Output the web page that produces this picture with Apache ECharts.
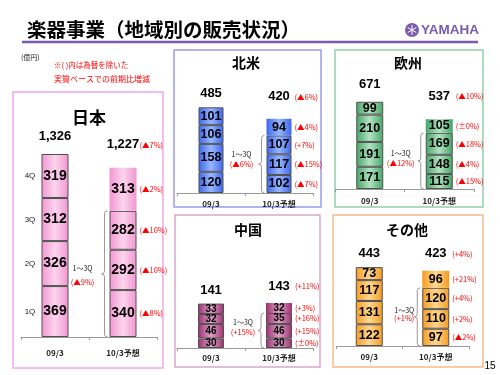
<!DOCTYPE html>
<html lang="ja">
<head>
<meta charset="UTF-8">
<title>楽器事業（地域別の販売状況）</title>
<style>
  html, body { margin: 0; background: #fff; }
  #main { width: 500px; height: 375px; }
</style>
</head>
<body>
<div id="main"></div>
<script src="https://cdn.jsdelivr.net/npm/echarts@6.0.0/dist/echarts.min.js"></script>
<script>
  // 単位：億円　1Q..4Q の順
  const cats = ['09/3', '10/3予想'];
  const qNames = ['1Q', '2Q', '3Q', '4Q'];

  const jpPrev = [369, 326, 312, 319];
  const jpFcst = [340, 292, 282, 313];
  const jpPct = ['(▲8%)', '(▲10%)', '(▲10%)', '(▲2%)'];
  const jpTotalPct = '(▲7%)';
  const jp13Pct = '(▲9%)';

  const naPrev = [120, 158, 106, 101];
  const naFcst = [102, 117, 107, 94];
  const naPct = ['(▲7%)', '(▲15%)', '(+7%)', '(▲4%)'];
  const naTotalPct = '(▲6%)';
  const na13Pct = '(▲6%)';

  const euPrev = [171, 191, 210, 99];
  const euFcst = [115, 148, 169, 105];
  const euPct = ['(▲15%)', '(▲4%)', '(▲18%)', '(±0%)'];
  const euTotalPct = '(▲10%)';
  const eu13Pct = '(▲12%)';

  const cnPrev = [30, 46, 32, 33];
  const cnFcst = [30, 46, 35, 32];
  const cnPct = ['(±0%)', '(+15%)', '(+16%)', '(+3%)'];
  const cnTotalPct = '(+11%)';
  const cn13Pct = '(+15%)';

  const otPrev = [122, 131, 117, 73];
  const otFcst = [97, 110, 120, 96];
  const otPct = ['(▲2%)', '(+2%)', '(+4%)', '(+21%)'];
  const otTotalPct = '(+4%)';
  const ot13Pct = '(+1%)';

  const JPF = "'Noto Sans CJK JP', sans-serif";
  const NARROW = "'Liberation Sans Narrow', 'Arial Narrow', sans-serif";
  const PCT_FONT = "7.5px 'Noto Sans CJK JP', sans-serif";

  const panels = [
    { name: '日本', prev: jpPrev, fcst: jpFcst, pct: jpPct, totalPct: jpTotalPct, q13Pct: jp13Pct,
      box: [13, 92, 150, 276], title: [89, 118], titleSize: 17,
      grid: { left: 21, top: 130, width: 136, height: 207 }, max: 1500, barWidth: 27, labelSize: 14,
      gaps: [18, 23], catMargin: 12, braceOff: 22, braceDy: [-6, 8],
      c1: '#f296d0', c2: '#fcd4ee', border: '#f0a8ec', qLabels: true },
    { name: '北米', prev: naPrev, fcst: naFcst, pct: naPct, totalPct: naTotalPct, q13Pct: na13Pct,
      box: [174, 50, 147, 157], title: [246, 63], titleSize: 14,
      grid: { left: 177, top: 87, width: 136, height: 106 }, max: 600, barWidth: 25, labelSize: 12.5,
      gaps: [14, 22], catMargin: 7, braceOff: 20, braceDy: [-10, 0],
      c1: '#3d66ee', c2: '#98b6ff', border: '#9a9af0' },
    { name: '欧州', prev: euPrev, fcst: euFcst, pct: euPct, totalPct: euTotalPct, q13Pct: eu13Pct,
      box: [335, 50, 148, 157], title: [408, 63], titleSize: 14,
      grid: { left: 335, top: 85, width: 139, height: 104 }, max: 800, barWidth: 27, labelSize: 12.5,
      gaps: [17, 23], catMargin: 8, braceOff: 20, braceDy: [-8, 2],
      c1: '#45a466', c2: '#b2e3c2', border: '#94d0ac' },
    { name: '中国', prev: cnPrev, fcst: cnFcst, pct: cnPct, totalPct: cnTotalPct, q13Pct: cn13Pct,
      box: [175, 215, 145, 152], title: [248, 230], titleSize: 14,
      grid: { left: 177, top: 285, width: 136, height: 63 }, max: 200, barWidth: 26, labelSize: 10,
      gaps: [13, 17], catMargin: 6, braceOff: 18, braceDy: [-8, 2],
      c1: '#9c3070', c2: '#dea0c6', border: '#d8a8cc' },
    { name: 'その他', prev: otPrev, fcst: otFcst, pct: otPct, totalPct: otTotalPct, q13Pct: ot13Pct,
      box: [333, 215, 150, 152], title: [407, 230], titleSize: 14,
      grid: { left: 336, top: 257, width: 133, height: 89 }, max: 500, barWidth: 27, labelSize: 12.5,
      gaps: [14, 17], catMargin: 7, braceOff: 13, braceDy: [-7, 1],
      c1: '#f59a22', c2: '#ffd890', border: '#f8bc8c' }
  ];

  function txt(s, x, y, font, color, align) {
    return {
      type: 'text',
      style: {
        text: s, x: x, y: y, font: font, fill: color,
        textAlign: align || 'center', align: align || 'center',
        textVerticalAlign: 'middle', verticalAlign: 'middle'
      }
    };
  }

  // 合計・前期比・括弧などの注記
  function annotations(p, gi) {
    return {
      type: 'custom', xAxisIndex: gi, yAxisIndex: gi, data: [[0, 0]], z: 10, silent: true,
      renderItem: function (params, api) {
        const kids = [];
        const hw = p.barWidth / 2;
        [p.prev, p.fcst].forEach(function (arr, c) {
          const tot = arr.reduce((a, b) => a + b, 0);
          const pt = api.coord([c, tot]);
          kids.push(txt(tot.toLocaleString('en-US'), pt[0], pt[1] - p.gaps[c], "bold 13px 'Liberation Sans', sans-serif", '#000'));
          if (c === 1) kids.push(txt(p.totalPct, pt[0] + hw + 3, pt[1] - p.gaps[c], PCT_FONT, '#ff0000', 'left'));
        });
        let acc = 0;
        p.fcst.forEach(function (v, i) {
          const mid = api.coord([1, acc + v / 2]);
          kids.push(txt(p.pct[i], mid[0] + hw + 3, mid[1], PCT_FONT, '#ff0000', 'left'));
          acc += v;
        });
        if (p.qLabels) {
          let a = 0;
          p.prev.forEach(function (v, i) {
            const mid = api.coord([0, a + v / 2]);
            kids.push(txt(qNames[i], mid[0] - 25, mid[1], "8px 'Liberation Sans', sans-serif", '#222'));
            a += v;
          });
        }
        // 1～3Q の括弧
        const q3 = p.fcst[0] + p.fcst[1] + p.fcst[2];
        const top = api.coord([1, q3]);
        const bot = api.coord([1, 0]);
        const x0 = top[0] - hw - 5;
        const y1 = top[1], y2 = bot[1], ym = (y1 + y2) / 2, w = 3;
        kids.push({
          type: 'path',
          shape: {
            pathData: 'M' + (x0 + w) + ' ' + y1 + ' Q' + x0 + ' ' + y1 + ' ' + x0 + ' ' + (y1 + w) +
              ' L' + x0 + ' ' + (ym - w) + ' Q' + x0 + ' ' + ym + ' ' + (x0 - w) + ' ' + ym +
              ' Q' + x0 + ' ' + ym + ' ' + x0 + ' ' + (ym + w) +
              ' L' + x0 + ' ' + (y2 - w) + ' Q' + x0 + ' ' + y2 + ' ' + (x0 + w) + ' ' + y2
          },
          style: { stroke: '#999', fill: null, lineWidth: 1 }
        });
        kids.push(txt('1～3Q', x0 - p.braceOff, ym + p.braceDy[0], "7px 'Noto Sans CJK JP', sans-serif", '#222'));
        kids.push(txt(p.q13Pct, x0 - p.braceOff, ym + p.braceDy[1], PCT_FONT, '#ff0000'));
        return { type: 'group', children: kids };
      }
    };
  }

  const grids = [], xAxes = [], yAxes = [], series = [], graphics = [];

  panels.forEach(function (p, gi) {
    grids.push(p.grid);
    xAxes.push({
      type: 'category', gridIndex: gi, data: cats,
      axisLine: { lineStyle: { color: '#999' } },
      axisTick: { show: true, length: 3, lineStyle: { color: '#999' } },
      axisLabel: { fontSize: 8, fontWeight: 'bold', color: '#222', margin: p.catMargin, fontFamily: JPF }
    });
    yAxes.push({ type: 'value', gridIndex: gi, min: 0, max: p.max, show: false });

    const grad = {
      type: 'linear', x: 0, y: 0, x2: 1, y2: 0,
      colorStops: [{ offset: 0, color: p.c1 }, { offset: 0.5, color: p.c2 }, { offset: 1, color: p.c1 }]
    };
    qNames.forEach(function (q, qi) {
      const fc = qi === 3 ? { value: p.fcst[qi], itemStyle: { borderWidth: 0 } } : p.fcst[qi];
      series.push({
        type: 'bar', name: p.name + q, stack: 's' + gi, xAxisIndex: gi, yAxisIndex: gi,
        barWidth: p.barWidth, data: [p.prev[qi], fc],
        itemStyle: { color: grad, borderColor: '#505050', borderWidth: 1 },
        label: {
          show: true, position: 'inside', color: '#000', fontWeight: 'bold',
          fontSize: p.labelSize, fontFamily: NARROW
        }
      });
    });
    series.push(annotations(p, gi));

    graphics.push({
      type: 'rect', shape: { x: p.box[0], y: p.box[1], width: p.box[2], height: p.box[3] },
      style: { fill: null, stroke: p.border, lineWidth: 1.5 }, z: -1
    });
    graphics.push(txt(p.name, p.title[0], p.title[1], 'bold ' + p.titleSize + 'px ' + JPF, '#000'));
  });

  // ページ見出し・ロゴ・注記
  graphics.push(
    txt('楽器事業（地域別の販売状況）', 27, 30, 'bold 19.5px ' + JPF, '#000', 'left'),
    { type: 'line', shape: { x1: 22, y1: 42, x2: 478, y2: 42 }, style: { stroke: '#7a5aae', lineWidth: 2.5 } },
    { type: 'circle', shape: { cx: 412, cy: 30, r: 7 }, style: { fill: '#7a5aae' } },
    { type: 'line', shape: { x1: 412, y1: 25, x2: 412, y2: 35 }, style: { stroke: '#fff', lineWidth: 1 } },
    { type: 'line', shape: { x1: 407.7, y1: 27.5, x2: 416.3, y2: 32.5 }, style: { stroke: '#fff', lineWidth: 1 } },
    { type: 'line', shape: { x1: 407.7, y1: 32.5, x2: 416.3, y2: 27.5 }, style: { stroke: '#fff', lineWidth: 1 } },
    txt('YAMAHA', 421, 30, "bold 13.5px 'Liberation Sans', sans-serif", '#7a5aae', 'left'),
    txt('(億円)', 21, 57, '7px ' + JPF, '#222', 'left'),
    txt('※( )内は為替を除いた', 54, 65, '7.5px ' + JPF, '#ff0000', 'left'),
    txt('実質ベースでの前期比増減', 54, 79, '8px ' + JPF, '#ff0000', 'left'),
    txt('15', 490, 366, "10px 'Liberation Sans', sans-serif", '#000')
  );

  const myChart = echarts.init(document.getElementById('main'));
  myChart.setOption({
    animation: false,
    grid: grids,
    xAxis: xAxes,
    yAxis: yAxes,
    series: series,
    graphic: { elements: graphics }
  });
</script>
</body>
</html>
